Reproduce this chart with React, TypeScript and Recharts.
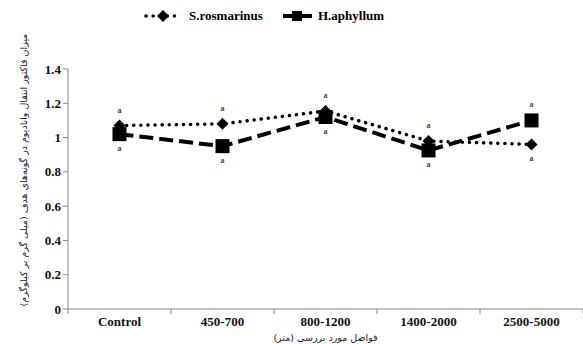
import React from "react";
import { LineChart, Line, XAxis, YAxis, Legend, LabelList } from "recharts";

const categories = ["Control", "450-700", "800-1200", "1400-2000", "2500-5000"];
const rosmarinus = [1.07, 1.08, 1.155, 0.98, 0.96];
const aphyllum = [1.02, 0.95, 1.12, 0.925, 1.1];
const yTicks = [0, 0.2, 0.4, 0.6, 0.8, 1, 1.2, 1.4];
const groupLetters = ["a", "a", "a", "a", "a"];

const data = categories.map((c, i) => ({
    name: c,
    rosmarinus: rosmarinus[i],
    aphyllum: aphyllum[i],
}));

const serif = "'Liberation Serif', 'DejaVu Serif', serif";
const HALF_BAND = 51.5;

const Diamond = (props: any) => {
    const { cx, cy } = props;
    if (cx == null || cy == null) return null;
    const r = 6;
    return <path d={`M${cx},${cy - r}L${cx + r},${cy}L${cx},${cy + r}L${cx - r},${cy}Z`} fill="#000" />;
};

const Square = (props: any) => {
    const { cx, cy } = props;
    if (cx == null || cy == null) return null;
    const s = 7;
    return <rect x={cx - s} y={cy - s} width={s * 2} height={s * 2} fill="#000" />;
};

// category label plus excel-style tick marks between categories
const CategoryTick = (props: any) => {
    const { x, y, payload, index } = props;
    return (
        <g>
            {index === 0 && <line x1={x - HALF_BAND} y1={y} x2={x - HALF_BAND} y2={y + 5} stroke="#888" />}
            <line x1={x + HALF_BAND} y1={y} x2={x + HALF_BAND} y2={y + 5} stroke="#888" />
            <text x={x} y={y + 17} textAnchor="middle" fontSize={13} fontWeight="bold" fill="#111" fontFamily={serif}>
                {payload.value}
            </text>
        </g>
    );
};

// letters go above the higher point and below the lower one
const letterLabel = (series: "r" | "a") => (props: any) => {
    const { x, y, index } = props;
    const above = series === "r" ? rosmarinus[index] >= aphyllum[index] : aphyllum[index] > rosmarinus[index];
    return (
        <text x={x} y={above ? y - 13 : y + 17} textAnchor="middle" fontSize={8} fontWeight="bold" fill="#444" fontFamily={serif}>
            {groupLetters[index]}
        </text>
    );
};

const YLabel = () => (
    <text
        x={27}
        y={170}
        transform="rotate(-90, 27, 170)"
        textAnchor="middle"
        fontSize={9.5}
        fill="#222"
        fontFamily="'DejaVu Sans', sans-serif"
    >
        میزان فاکتور انتقال وانادیوم در گونه‌های هدف (میلی گرم بر کیلوگرم)
    </text>
);

const LegendContent = () => (
    <svg width={583} height={30}>
        <line x1={146} y1={16} x2={180} y2={16} stroke="#000" strokeWidth={3.5} strokeDasharray="0.1 7" strokeLinecap="round" />
        <path d="M163,10L169,16L163,22L157,16Z" fill="#000" />
        <text x={189} y={20} fontSize={13} fontWeight="bold" fontFamily={serif}>S.rosmarinus</text>
        <line x1={283} y1={16} x2={313} y2={16} stroke="#000" strokeWidth={4} strokeDasharray="12 5" />
        <rect x={292} y={11} width={10} height={10} fill="#000" />
        <text x={318} y={20} fontSize={13} fontWeight="bold" fontFamily={serif}>H.aphyllum</text>
    </svg>
);

export default function App() {
    return (
        <div style={{ position: "absolute", left: 0, top: 0, width: 583, height: 344, background: "#fff" }}>
            <LineChart width={583} height={344} data={data} margin={{ top: 35, right: 0, left: 0, bottom: 0 }}>
                <Legend verticalAlign="top" align="left" content={<LegendContent />} wrapperStyle={{ top: 0, left: 0 }} />
                <XAxis
                    dataKey="name"
                    height={35}
                    padding={{ left: HALF_BAND, right: HALF_BAND }}
                    axisLine={{ stroke: "#888" }}
                    tickLine={false}
                    tickSize={0}
                    tickMargin={0}
                    tick={<CategoryTick />}
                    label={{ value: "فواصل مورد بررسی (متر)", position: "insideBottom", offset: 3, fontSize: 9.5, fill: "#222", fontFamily: "'DejaVu Sans', sans-serif" }}
                />
                <YAxis
                    width={68}
                    domain={[0, 1.4]}
                    ticks={yTicks}
                    axisLine={{ stroke: "#888" }}
                    tickLine={{ stroke: "#888" }}
                    tickSize={5}
                    tick={{ fill: "#111", fontSize: 13, fontWeight: "bold", fontFamily: serif }}
                    label={<YLabel />}
                />
                <Line
                    type="linear"
                    dataKey="rosmarinus"
                    stroke="#000"
                    strokeWidth={3.5}
                    strokeDasharray="0.1 7"
                    strokeLinecap="round"
                    dot={<Diamond />}
                    activeDot={false}
                    isAnimationActive={false}
                >
                    <LabelList dataKey="rosmarinus" content={letterLabel("r")} />
                </Line>
                <Line
                    type="linear"
                    dataKey="aphyllum"
                    stroke="#000"
                    strokeWidth={4}
                    strokeDasharray="14 6"
                    dot={<Square />}
                    activeDot={false}
                    isAnimationActive={false}
                >
                    <LabelList dataKey="aphyllum" content={letterLabel("a")} />
                </Line>
            </LineChart>
        </div>
    );
}
